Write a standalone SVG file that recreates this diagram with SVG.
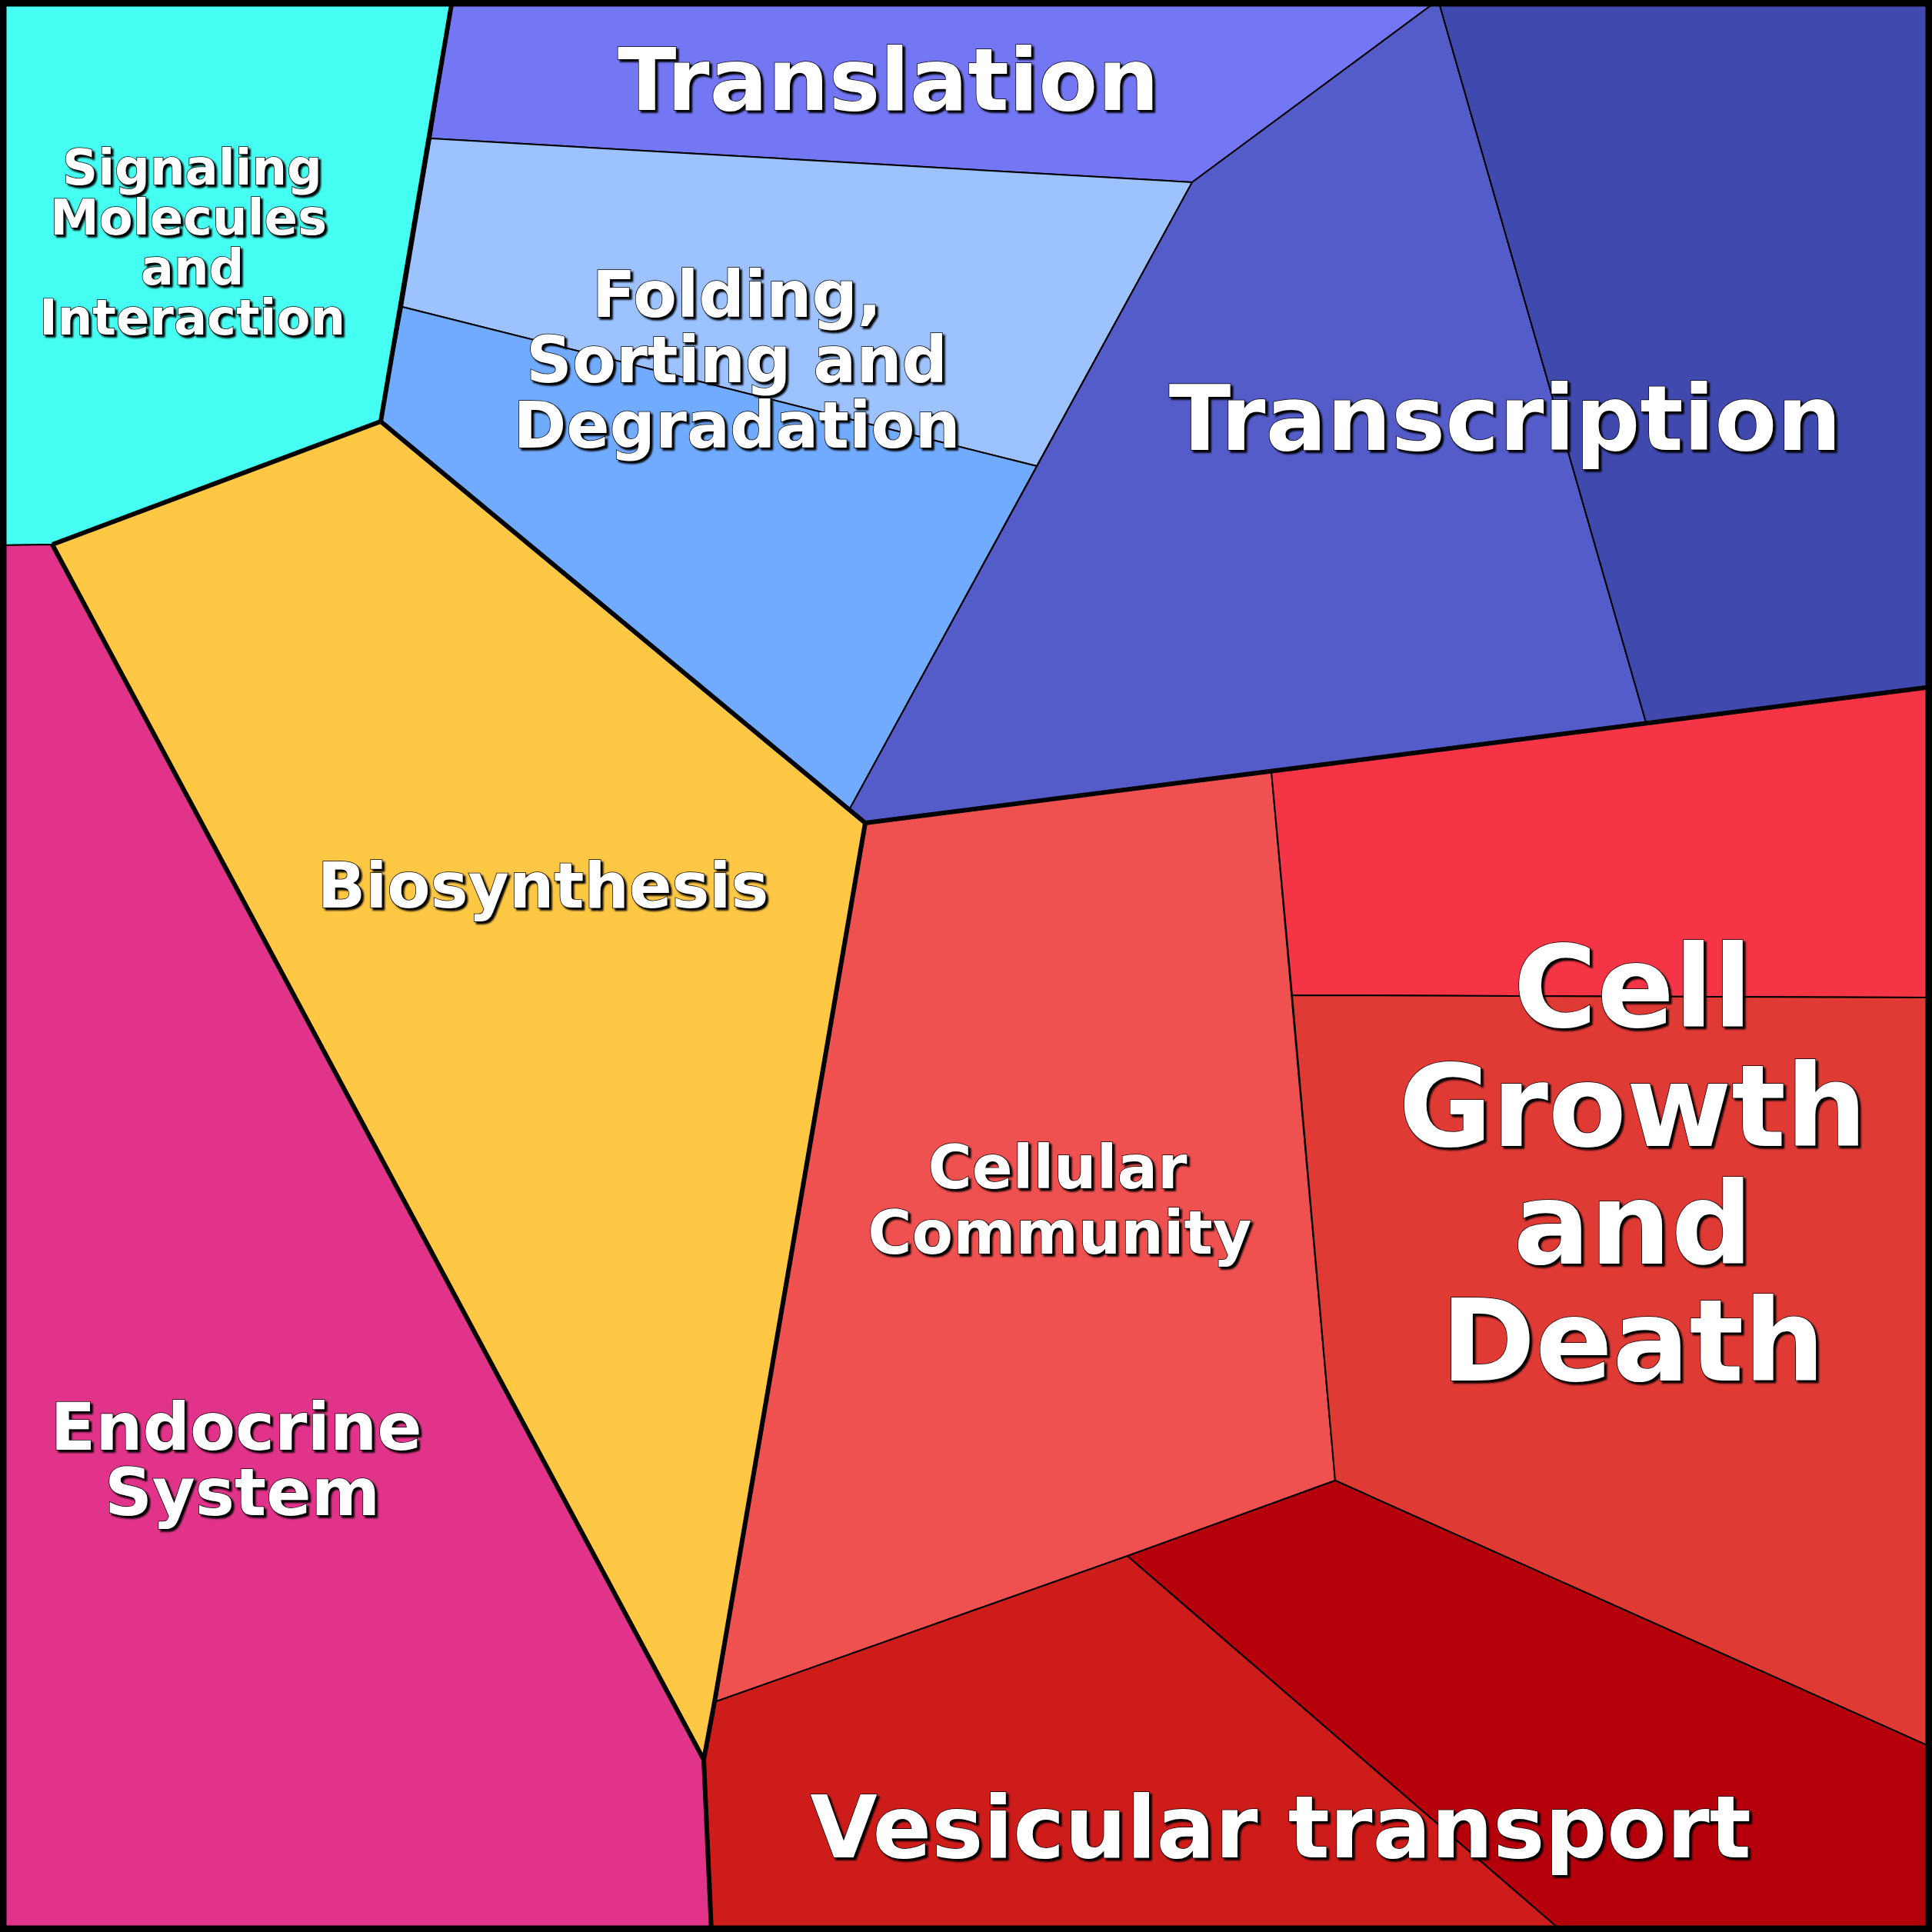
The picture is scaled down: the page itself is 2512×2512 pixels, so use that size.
<svg xmlns="http://www.w3.org/2000/svg" width="2512" height="2512" viewBox="0 0 2512 2512">
<defs>
<filter id="sh" x="-10%" y="-10%" width="120%" height="130%"><feDropShadow dx="3" dy="3" stdDeviation="1" flood-color="#000" flood-opacity="1"/></filter>
</defs>
<style>
.c{stroke:#000;stroke-width:2;stroke-linejoin:round}
.t{fill:#fff;font-family:"DejaVu Sans",sans-serif;font-weight:bold;text-anchor:middle;stroke:#000;stroke-width:1.5;paint-order:stroke;filter:url(#sh)}
.k{fill:none;stroke:#000;stroke-width:6;stroke-linejoin:round}
</style>
<rect width="2512" height="2512" fill="#fff"/>
<g id="signaling"><polygon class="c" fill="#45FFF2" points="0,0 588,0 495,548 68,708 0,709"/></g>
<g id="translation"><polygon class="c" fill="#7477F3" points="588,0 1870,0 1550,237 560,180"/></g>
<g id="folding"><polygon class="c" fill="#9CC2FF" points="560,180 1550,237 1348,606 523,399"/>
<polygon class="c" fill="#70ABFF" points="523,399 1348,606 1103,1055 495,548"/></g>
<g id="transcription"><polygon class="c" fill="#545CC9" points="1550,237 1870,0 2140,939 1125,1070 1103,1055"/>
<polygon class="c" stroke-width="1" fill="#3F49AE" points="1870,0 2512,0 2512,893 2140,939"/></g>
<g id="biosynthesis"><polygon class="c" fill="#FEC744" points="68,708 495,548 1125,1070 929,2213 915,2288"/></g>
<g id="endocrine"><polygon class="c" fill="#E2338A" points="0,709 68,708 915,2288 925,2512 0,2512"/></g>
<g id="cellular"><polygon class="c" fill="#EF5050" points="1125,1070 1653,1003 1736,1925 1466,2023 929,2213"/></g>
<g id="growth"><polygon class="c" fill="#F53545" points="1653,1003 2140,939 2512,893 2512,1297 1680,1294"/>
<polygon class="c" fill="#E03A35" points="1680,1294 2512,1297 2512,2272 1736,1925"/></g>
<g id="vesicular"><polygon class="c" fill="#CE1C1A" points="929,2213 1466,2023 2032,2512 925,2512 915,2288"/>
<polygon class="c" fill="#B5000C" points="1466,2023 1736,1925 2512,2272 2512,2512 2032,2512"/></g>
<g id="borders">
<polyline class="k" points="68,708 495,548 1125,1070 929,2213 915,2288 68,708"/>
<polyline class="k" points="915,2288 925,2512"/>
<polyline class="k" points="1125,1070 2512,893"/>
<polyline class="k" points="495,548 588,0"/>
<rect x="4" y="4" width="2504" height="2504" fill="none" stroke="#000" stroke-width="9"/>
</g>
<g id="labels">
<text class="t" x="1155" y="143" font-size="112">Translation</text>
<text class="t" x="1957" y="585" font-size="118">Transcription</text>
<text class="t" x="2123" y="1335" font-size="148">Cell</text>
<text class="t" x="2123" y="1490" font-size="148">Growth</text>
<text class="t" x="2123" y="1643" font-size="148">and</text>
<text class="t" x="2123" y="1795" font-size="148">Death</text>
<text class="t" x="1665" y="2415" font-size="113">Vesicular transport</text>
<text class="t" x="307" y="1885" font-size="86">Endocrine</text>
<text class="t" x="315" y="1970" font-size="86">System</text>
<text class="t" x="706" y="1180" font-size="82">Biosynthesis</text>
<text class="t" x="1375" y="1545" font-size="78">Cellular</text>
<text class="t" x="1378" y="1630" font-size="78">Community</text>
<text class="t" x="958" y="412" font-size="83">Folding,</text>
<text class="t" x="958" y="497" font-size="83">Sorting and</text>
<text class="t" x="958" y="582" font-size="83">Degradation</text>
<text class="t" x="250" y="240" font-size="64">Signaling</text>
<text class="t" x="245" y="305" font-size="64">Molecules</text>
<text class="t" x="250" y="370" font-size="64">and</text>
<text class="t" x="250" y="435" font-size="64">Interaction</text>
</g>
</svg>
